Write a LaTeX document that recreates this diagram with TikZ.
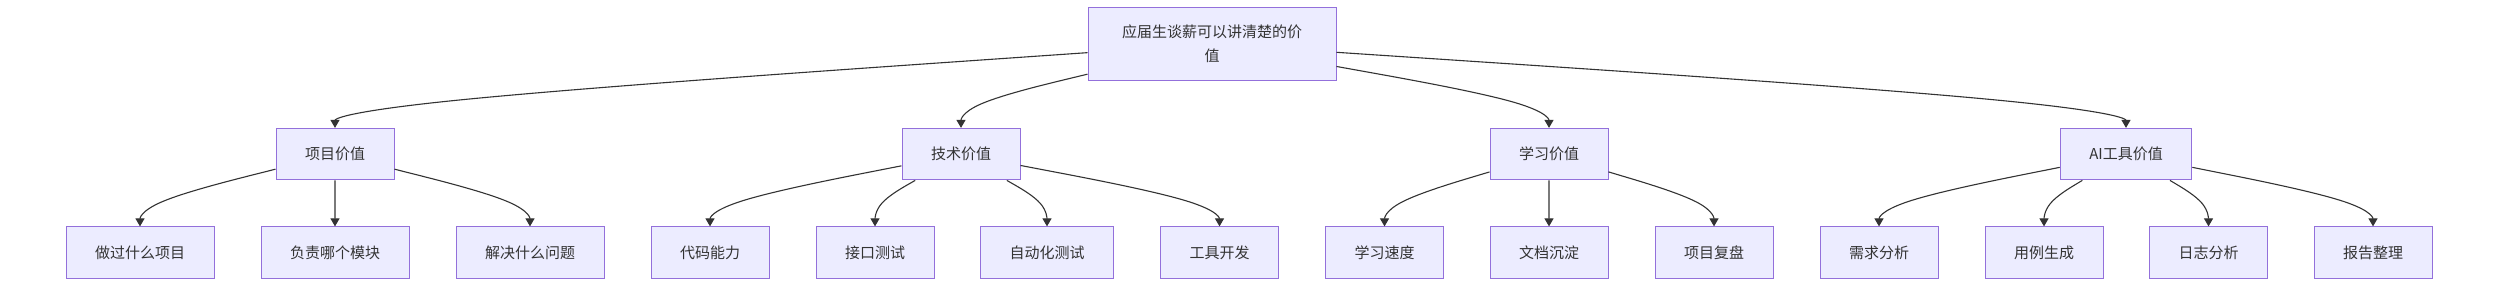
\documentclass[tikz,border=0pt]{standalone}
\usepackage{fontspec}
\setmainfont{Noto Sans CJK SC}
\usetikzlibrary{arrows.meta,calc}
\definecolor{nodefill}{HTML}{ECECFF}
\definecolor{nodeline}{HTML}{9370DB}
\definecolor{txtcol}{HTML}{333333}
\definecolor{edgecol}{HTML}{333333}
\tikzset{
  box/.style={draw=nodeline, fill=nodefill, line width=1pt, text=txtcol,
    font=\fontsize{15}{24}\selectfont, inner xsep=29pt, inner ysep=0pt,
    minimum height=51.5pt, align=center},
  rootbox/.style={box, minimum width=248pt, minimum height=73.7pt},
  edge/.style={draw=edgecol, line width=1.1pt, -{Triangle[length=8pt,width=9pt]}},
}
\newcommand\bedge[2]{%
  \path let \p1=(#1.south), \p2=(#2.north) in (\x2,{0.5*(\y1+\y2)}) coordinate (bM);
  \path (#1) -- (bM) coordinate[pos=0] (bS);
  \draw[edge] (bS) -- ($(bS)!0.16667!(bM)$)
    .. controls ($(bS)!0.33333!(bM)$) and ($(bS)!0.66667!(bM)$)
    .. ($0.16667*(bS)+0.66667*(bM)+0.16667*(#2.north)$)
    .. controls ($(bM)!0.33333!(#2.north)$) and ($(bM)!0.66667!(#2.north)$)
    .. (#2.north);
}
\begin{document}
\begin{tikzpicture}[x=1pt,y=-1pt]
\useasboundingbox (0,0) rectangle (2498,286);
% root
\node[rootbox] (root) at (1212,44.15) {应届生谈薪可以讲清楚的价\\值};
% level 2
\node[box] (proj) at (335,154.15) {项目价值};
\node[box] (tech) at (961,154.15) {技术价值};
\node[box] (learn) at (1549,154.15) {学习价值};
\node[box] (ai) at (2126,154.15) {AI工具价值};
% level 3
\node[box] (p1) at (140,252.65) {做过什么项目};
\node[box] (p2) at (335,252.65) {负责哪个模块};
\node[box] (p3) at (530,252.65) {解决什么问题};
\node[box] (t1) at (710,252.65) {代码能力};
\node[box] (t2) at (875,252.65) {接口测试};
\node[box] (t3) at (1047,252.65) {自动化测试};
\node[box] (t4) at (1219.5,252.65) {工具开发};
\node[box] (l1) at (1384.5,252.65) {学习速度};
\node[box] (l2) at (1549,252.65) {文档沉淀};
\node[box] (l3) at (1714,252.65) {项目复盘};
\node[box] (a1) at (1879,252.65) {需求分析};
\node[box] (a2) at (2044,252.65) {用例生成};
\node[box] (a3) at (2208.5,252.65) {日志分析};
\node[box] (a4) at (2373,252.65) {报告整理};
% edges
\bedge{root}{proj}
\bedge{root}{tech}
\bedge{root}{learn}
\bedge{root}{ai}
\bedge{proj}{p1}
\bedge{proj}{p2}
\bedge{proj}{p3}
\bedge{tech}{t1}
\bedge{tech}{t2}
\bedge{tech}{t3}
\bedge{tech}{t4}
\bedge{learn}{l1}
\bedge{learn}{l2}
\bedge{learn}{l3}
\bedge{ai}{a1}
\bedge{ai}{a2}
\bedge{ai}{a3}
\bedge{ai}{a4}
\end{tikzpicture}
\end{document}
